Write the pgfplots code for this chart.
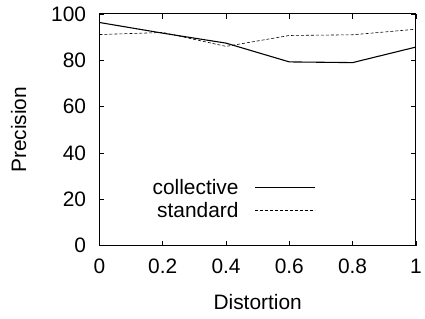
\documentclass[border=0pt]{standalone}
\usepackage{fontspec}
\setmainfont{Liberation Sans}
\usepackage{pgfplots}
\pgfplotsset{compat=1.18}
\newcommand{\bigfont}{\fontsize{21}{24}\selectfont}
\begin{document}
\begin{tikzpicture}[font=\bigfont]
\begin{axis}[
  scale only axis,
  width=318pt, height=233pt,
  xmin=0, xmax=1, ymin=0, ymax=100,
  xtick={0,0.2,0.4,0.6,0.8,1},
  ytick={0,20,40,60,80,100},
  xticklabels={0,0.2,0.4,0.6,0.8,1},
  tick align=inside,
  major tick length=5pt,
  tick style={black, line width=0.6pt},
  axis line style={line width=0.9pt},
  /pgf/number format/assume math mode=true,
  tick label style={font=\bigfont},
  xticklabel style={yshift=-10pt},
  yticklabel style={xshift=-10pt},
  label style={font=\bigfont},
  xlabel={Distortion}, ylabel={Precision},
  xlabel style={yshift=-14pt},
  ylabel style={yshift=18pt},
  legend style={draw=none, fill=none, at={(axis cs:0.692,30)}, anchor=north east,
    legend cell align=right, row sep=4pt, column sep=15pt, font=\bigfont,
    nodes={inner sep=1pt}},
  legend plot pos=right,
  legend image code/.code={\draw[#1] (0pt,0cm) -- (60pt,0cm);},
]
\addplot[black, line width=1.1pt] coordinates {(0,96.3) (0.2,91.7) (0.4,87.4) (0.6,79.3) (0.8,79) (1,85.7)};
\addlegendentry{collective}
\addplot[black, line width=0.6pt, dash pattern=on 3pt off 2pt] coordinates {(0,91.1) (0.2,92) (0.4,86) (0.6,90.7) (0.8,91) (1,93.4)};
\addlegendentry{standard}
\end{axis}
\path[use as bounding box] (-100pt,-73pt) rectangle (325pt,247pt);
\end{tikzpicture}
\end{document}
